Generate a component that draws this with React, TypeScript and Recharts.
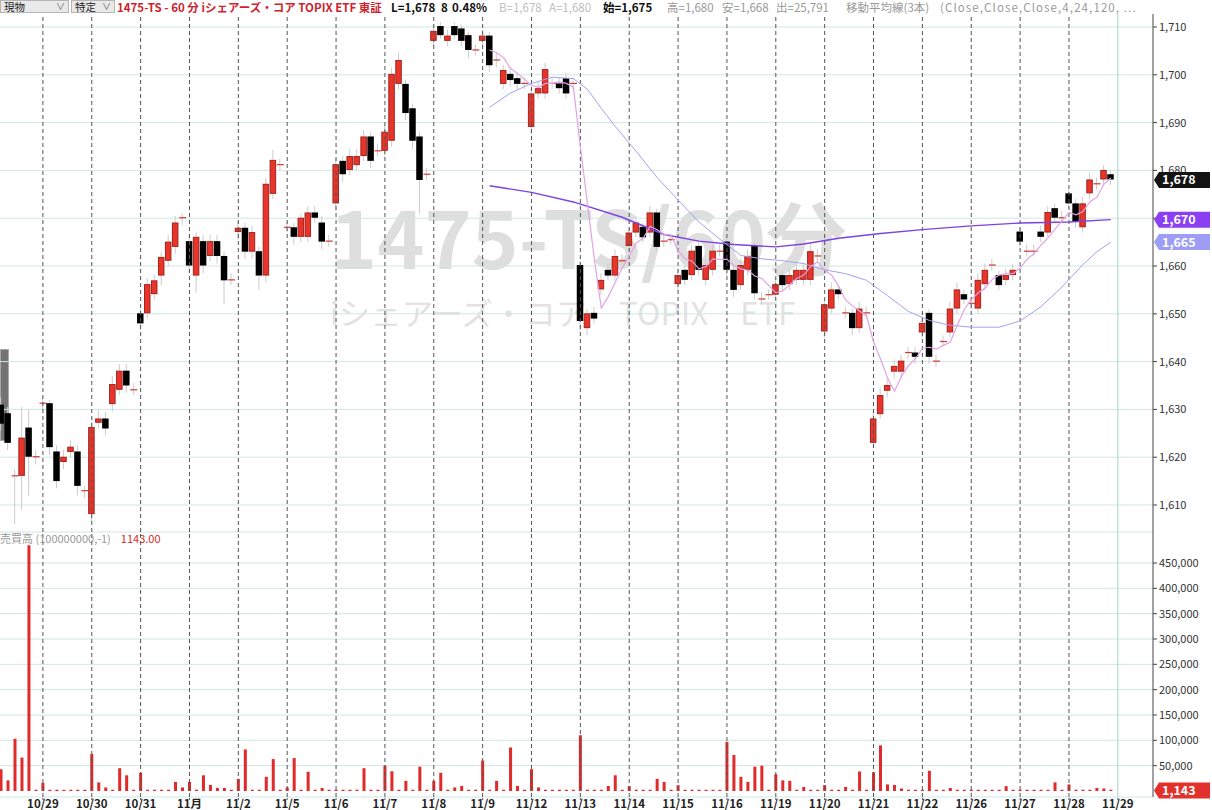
import { ComposedChart, Bar, Line, XAxis, YAxis, CartesianGrid, ReferenceLine } from 'recharts'

// 60-minute candles, one slot per hour (7 per trading day); slot 6 = first bar of 10/29
const opens = [
  1631, 1629.2, 1616.1, 1616.1, 1626.2, 1620.1, 1631.3, 1631.3, 1621.2, 1619.0,
  1621.1, 1621.2, 1613.0, 1608.1, 1627.2, 1628.1, 1631.1, 1634.1, 1638.1, 1634.1,
  1650.1, 1650.1, 1654.1, 1658.0, 1661.1, 1664.0, 1670.1, 1665.2, 1658.0, 1665.2,
  1662.1, 1665.2, 1662.1, 1657.1, 1667.1, 1668.0, 1663.0, 1663.1, 1658.0, 1675.1,
  1681.2, 1668.1, 1668.1, 1666.1, 1666.1, 1671.2, 1669.1, 1665.2, 1673.1, 1682.0,
  1680.1, 1681.1, 1683.0, 1687.1, 1684.1, 1684.1, 1686.2, 1698.1, 1698.1, 1693.0,
  1687.1, 1679.2, 1707.1, 1710.2, 1707.1, 1710.2, 1709.7, 1708.3, 1705.2, 1707.1,
  1708.2, 1703.1, 1698.1, 1700.2, 1699.3, 1698.2, 1689.1, 1696.1, 1696.1, 1698.2,
  1698.2, 1699.3, 1698.2, 1660.2, 1647.0, 1650.2, 1655.1, 1659.2, 1658.0, 1661.1,
  1664.2, 1667.0, 1668.2, 1667.0, 1671.2, 1665.2, 1665.5, 1656.2, 1659.2, 1658.1,
  1664.2, 1657.1, 1659.2, 1663.1, 1665.1, 1659.2, 1656.0, 1659.2, 1664.2, 1653.1,
  1654.0, 1654.0, 1658.1, 1656.2, 1657.1, 1657.1, 1657.1, 1662.1, 1646.3, 1651.1,
  1655.1, 1650.2, 1650.2, 1647.0, 1650.2, 1623.0, 1629.0, 1633.9, 1637.9, 1637.9,
  1641.9, 1641.9, 1646.1, 1650.2, 1640.1, 1644.2, 1646.1, 1651.1, 1654.1, 1652.2,
  1651.1, 1656.2, 1660.2, 1658.1, 1657.1, 1658.1, 1667.2, 1663.1, 1663.1, 1667.2,
  1667.0, 1672.1, 1670.1, 1675.2, 1673.1, 1668.1, 1675.2, 1677.2, 1678.1, 1679.2,
]
const closes = [
  1627, 1623.0, 1616.1, 1624.1, 1620.1, 1620.1, 1631.3, 1622.1, 1615.0, 1620.1,
  1622.2, 1614.0, 1613.0, 1626.3, 1628.1, 1626.0, 1635.3, 1638.1, 1635.0, 1634.1,
  1648.0, 1656.2, 1657.0, 1661.9, 1665.1, 1669.1, 1670.1, 1660.1, 1666.1, 1660.1,
  1665.2, 1662.1, 1657.0, 1657.1, 1668.0, 1663.0, 1667.1, 1658.0, 1677.2, 1682.2,
  1681.2, 1668.1, 1666.1, 1670.1, 1671.2, 1670.1, 1665.1, 1665.2, 1681.3, 1679.2,
  1683.0, 1683.0, 1687.1, 1682.0, 1684.1, 1688.1, 1700.2, 1703.1, 1692.0, 1686.2,
  1678.0, 1679.2, 1709.2, 1708.3, 1708.2, 1708.3, 1707.1, 1705.2, 1705.2, 1708.2,
  1702.0, 1703.1, 1701.0, 1698.9, 1698.1, 1698.2, 1696.1, 1697.2, 1701.2, 1698.2,
  1697.2, 1696.1, 1698.2, 1648.5, 1650.1, 1649.0, 1657.1, 1658.0, 1662.1, 1661.1,
  1667.0, 1669.1, 1666.0, 1671.2, 1664.0, 1665.2, 1665.5, 1658.1, 1657.1, 1663.2,
  1659.2, 1660.2, 1663.2, 1663.1, 1659.2, 1655.0, 1660.2, 1662.1, 1654.3, 1653.1,
  1654.0, 1656.2, 1656.0, 1658.1, 1659.2, 1659.2, 1663.1, 1662.1, 1652.0, 1655.1,
  1654.1, 1650.2, 1647.0, 1651.1, 1650.2, 1628.1, 1633.0, 1635.1, 1639.1, 1640.2,
  1641.9, 1641.0, 1648.1, 1641.0, 1640.1, 1644.2, 1651.1, 1655.1, 1653.0, 1652.2,
  1657.1, 1659.2, 1660.2, 1656.0, 1658.1, 1659.2, 1665.1, 1663.1, 1663.1, 1666.1,
  1671.3, 1670.1, 1670.1, 1673.1, 1669.3, 1673.1, 1678.1, 1677.2, 1680.1, 1678.1,
]
const highs = [
  1632.5, 1630.5, 1617.5, 1630.5, 1630, 1621.5, 1632.5, 1632, 1622.5, 1621.5,
  1623.5, 1622.5, 1614, 1627.5, 1630, 1629.5, 1637, 1639.5, 1639.5, 1635.5,
  1651, 1657.5, 1658.2, 1663, 1666.5, 1670.5, 1671, 1666.5, 1667, 1666.5,
  1666.5, 1666.5, 1663, 1658.5, 1669.5, 1669, 1668.5, 1664, 1678.5, 1684.3,
  1682.5, 1669.5, 1669, 1671, 1672.5, 1672.5, 1670.5, 1666.5, 1682.5, 1683,
  1684.5, 1684.5, 1688.5, 1688, 1685.5, 1689.5, 1701.5, 1704.6, 1699, 1694,
  1688, 1680.5, 1710.5, 1711, 1709.5, 1711, 1710.5, 1709, 1706.5, 1709.5,
  1709, 1704.5, 1702, 1701.5, 1700.5, 1699.5, 1697, 1698.5, 1702.5, 1699.5,
  1699.5, 1700.5, 1699.5, 1661, 1651, 1651.5, 1658.5, 1660.5, 1663.5, 1662.5,
  1668, 1670.5, 1669, 1672.5, 1672, 1666.5, 1666.5, 1659.5, 1660, 1664.5,
  1665, 1661.5, 1664.5, 1664.5, 1666, 1660, 1661.5, 1663.5, 1665, 1654.5,
  1655, 1657.5, 1659, 1659.5, 1660.5, 1660.5, 1664.5, 1663.5, 1653, 1656.5,
  1656, 1651.5, 1651, 1652.5, 1651.5, 1629.5, 1634.5, 1636.5, 1640.5, 1641.5,
  1643, 1643, 1649.5, 1651, 1641.5, 1645.5, 1652.5, 1656.5, 1655, 1653.5,
  1658.5, 1660.5, 1661.5, 1659, 1659.5, 1660.5, 1668, 1664.5, 1664.5, 1668.5,
  1672.5, 1673, 1671.5, 1676, 1674, 1674.5, 1679.5, 1678.5, 1681, 1680,
]
const lows = [
  1625.5, 1621.5, 1606, 1609, 1612, 1618.5, 1630, 1620.5, 1613.5, 1617.5,
  1620, 1612, 1611.5, 1606.5, 1626, 1624.5, 1629.5, 1633, 1633.5, 1633,
  1646.5, 1649, 1653, 1656, 1660, 1662.5, 1668.5, 1658.5, 1654.4, 1658.5,
  1661, 1660.5, 1652, 1656, 1665.5, 1661.5, 1661.5, 1655, 1656.5, 1674,
  1680, 1667, 1664.5, 1665, 1665, 1669, 1663.5, 1664, 1671.5, 1677.5,
  1679, 1680, 1682, 1680.5, 1683, 1683, 1685, 1697, 1690.5, 1684.5,
  1671, 1678, 1706, 1707.5, 1706, 1707.5, 1706, 1703.5, 1704, 1706,
  1700.5, 1701.5, 1697, 1697.5, 1697, 1697, 1687.5, 1695, 1695, 1697,
  1696, 1695, 1697, 1646.5, 1645.5, 1648, 1654, 1657, 1657, 1660,
  1663, 1666, 1665, 1666, 1663, 1664, 1664.5, 1655, 1656, 1657,
  1658, 1656, 1658, 1662, 1658, 1653.5, 1655, 1658, 1653, 1652,
  1653, 1653, 1655, 1655, 1656, 1656, 1656, 1661, 1645, 1650,
  1653, 1649, 1645.5, 1646, 1649, 1622, 1628, 1632.5, 1636.5, 1636.5,
  1640.5, 1639.5, 1645, 1639.5, 1639, 1643, 1645, 1650, 1652, 1651,
  1650, 1655, 1659, 1655, 1656, 1657, 1664, 1662, 1662, 1665,
  1666, 1669, 1669, 1672, 1668, 1667, 1674, 1676, 1677, 1677,
]
const volumes = [
  43000, 21000, 103000, 66000, 485000, 2500, 16000, 2500, 2500, 2500,
  2500, 2500, 2500, 73000, 17000, 7000, 2500, 45000, 31000, 2500,
  36000, 2500, 2500, 2500, 2500, 18000, 7000, 18000, 2500, 31000,
  12000, 6000, 6000, 2500, 24000, 82000, 2500, 2500, 28000, 63000,
  2500, 7000, 65000, 2500, 38000, 2500, 6000, 2500, 2500, 2500,
  2500, 2500, 45000, 2500, 2500, 50000, 39000, 2500, 20000, 2500,
  48000, 2500, 20000, 36000, 2500, 7000, 10000, 2500, 2500, 60000,
  2500, 20000, 2500, 86000, 10000, 2500, 43000, 7000, 2500, 2500,
  2500, 2500, 2500, 110000, 2500, 2500, 2500, 10000, 31000, 2500,
  9600, 2500, 2500, 2500, 24000, 18000, 2500, 11500, 2500, 2500,
  2500, 2500, 2500, 2500, 97000, 71000, 28000, 18000, 48000, 50000,
  2500, 33000, 21000, 20000, 2500, 8000, 2500, 2500, 11500, 2500,
  2500, 8000, 2500, 38500, 2500, 37000, 90000, 13000, 12000, 5000,
  2500, 2500, 2500, 40000, 2500, 2500, 6000, 2500, 2500, 2500,
  2500, 2500, 2500, 2500, 9600, 2500, 2500, 2500, 2500, 2500,
  2500, 17000, 2500, 13000, 2500, 2500, 2500, 6000, 5000, 2500,
]

const MA_START = 70
const ma4 = [
  1705.2, 1704.6, 1703.6, 1701.3, 1700.3, 1699.1, 1697.8, 1697.4, 1698.2, 1698.2,
  1698.5, 1698.2, 1697.4, 1685.0, 1673.2, 1661.5, 1651.2, 1653.6, 1656.6, 1659.6,
  1662.1, 1664.8, 1665.8, 1668.3, 1667.6, 1666.6, 1666.5, 1663.2, 1661.5, 1661.0,
  1659.4, 1659.9, 1661.5, 1661.4, 1661.4, 1660.1, 1659.4, 1659.1, 1657.9, 1657.4,
  1655.9, 1654.4, 1654.8, 1656.1, 1657.4, 1658.1, 1659.9, 1660.9, 1659.1, 1658.1,
  1655.8, 1652.9, 1651.6, 1650.6, 1649.6, 1644.1, 1640.6, 1636.6, 1633.8, 1636.9,
  1639.1, 1640.6, 1642.8, 1643.0, 1642.6, 1643.4, 1644.1, 1647.6, 1650.9, 1652.9,
  1654.4, 1655.4, 1657.2, 1658.1, 1658.4, 1658.4, 1659.6, 1661.4, 1662.6, 1664.4,
  1665.9, 1667.7, 1669.4, 1671.2, 1670.7, 1671.4, 1673.4, 1674.4, 1677.1, 1678.4,
]
const ma24Slots = [70, 73, 76, 79, 82, 84, 86, 88, 91, 94, 97, 100, 103, 106, 109, 112, 115, 118, 121, 124, 127, 130, 133, 136, 139, 143, 146, 149, 152, 155, 157, 159]
const ma24 = [1693.2, 1696.2, 1698.2, 1699.5, 1699.2, 1697.0, 1693.0, 1689.2, 1684.0, 1678.5, 1673.8, 1669.2, 1665.6, 1662.2, 1661.5, 1661.1, 1660.5, 1659.2, 1658.4, 1657.0, 1653.8, 1650.5, 1648.6, 1647.6, 1647.2, 1647.2, 1648.5, 1651.5, 1655.6, 1660.3, 1663.0, 1665.0]
const ma120Slots = [70, 76, 82, 89, 95, 100, 105, 111, 115, 120, 126, 132, 139, 146, 153, 159]
const ma120 = [1676.8, 1675.4, 1673.4, 1670.2, 1666.6, 1665.2, 1664.5, 1664.0, 1664.6, 1665.8, 1666.8, 1667.6, 1668.4, 1669.0, 1669.2, 1669.7]

const dayLabels = ['10/29', '10/30', '10/31', '11月', '11/2', '11/5', '11/6', '11/7', '11/8', '11/9', '11/12', '11/13', '11/14', '11/15', '11/16', '11/19', '11/20', '11/21', '11/22', '11/26', '11/27', '11/28', '11/29']
const dayTicks = dayLabels.map((_, k) => 6 + 7 * k)
const priceTicks = [1610, 1620, 1630, 1640, 1650, 1660, 1670, 1680, 1690, 1700, 1710]
const volTicks = [50000, 100000, 150000, 200000, 250000, 300000, 350000, 400000, 450000]

const X_DOMAIN = [-0.146, 165.04]
const PRICE_DOMAIN = [1604.35, 1715.65]
const FONT = '"Noto Sans CJK JP", "Noto Sans", sans-serif'

const rows = opens.map((open, i) => {
  const a = ma24Slots.indexOf(i)
  const b = ma120Slots.indexOf(i)
  return {
    slot: i,
    open,
    close: closes[i],
    high: highs[i],
    low: lows[i],
    range: [lows[i], highs[i]],
    vol: volumes[i],
    ma4: i >= MA_START ? ma4[i - MA_START] : null,
    ma24: a >= 0 ? ma24[a] : null,
    ma120: b >= 0 ? ma120[b] : null,
  }
})

function Candle(p: any) {
  const { x, y, width, height, payload } = p
  if (!payload || !height) return null
  const { open, close, high, low } = payload
  const k = height / (high - low)
  const cx = x + width / 2
  const yo = y + (high - open) * k
  const yc = y + (high - close) * k
  const top = Math.min(yo, yc)
  const h = Math.abs(yo - yc)
  let body
  if (h < 1) body = <line x1={cx - 3} x2={cx + 4} y1={yo} y2={yo} stroke="#cf3b33" strokeWidth={1.2} />
  else if (close > open) body = <rect x={cx - 2.75} y={top + 0.5} width={5.5} height={h - 1} fill="#e8342b" stroke="#a3241c" strokeWidth={1} />
  else body = <rect x={cx - 3.25} y={top} width={6.5} height={h} fill="#000" />
  return (
    <g>
      <line x1={cx} x2={cx} y1={y} y2={y + height} stroke="#cccccc" strokeWidth={1} />
      {body}
    </g>
  )
}

function Tag(p: any) {
  const { viewBox, text, fill } = p
  if (!viewBox) return null
  const x = viewBox.x + viewBox.width + 1
  const y = viewBox.y
  return (
    <g>
      <path d={`M${x},${y} L${x + 5},${y - 8} L${x + 56},${y - 8} L${x + 56},${y + 8} L${x + 5},${y + 8} Z`} fill={fill} />
      <text x={x + 8} y={y + 4.5} fill="#fff" fontSize={12.5} fontWeight={700} fontFamily={FONT}>{text}</text>
    </g>
  )
}

const fmt = (v: number) => v.toLocaleString('en-US')

function Select({ left, width, text }: { left: number; width: number; text: string }) {
  return (
    <div style={{ position: 'absolute', left, top: 0, width, height: 13, background: '#e9e9e9', border: '1px solid #b5b5b5', boxSizing: 'border-box', fontSize: 10.5, lineHeight: '12px', color: '#222', overflow: 'hidden' }}>
      <span style={{ marginLeft: 3 }}>{text}</span>
      <span style={{ position: 'absolute', right: 3, top: 0, color: '#666', fontSize: 9 }}>∨</span>
    </div>
  )
}

const H = (left: number, color: string, text: string, bold = false, extra: any = {}) => (
  <span style={{ position: 'absolute', left, top: 1, color, fontWeight: bold ? 700 : 400, ...extra }}>{text}</span>
)

export default function App() {
  return (
    <div style={{ position: 'absolute', left: 0, top: 0, width: 1212, height: 810, overflow: 'hidden', background: '#fff', fontFamily: FONT }}>
      <div style={{ position: 'absolute', left: 330, top: 194, fontSize: 80, fontWeight: 700, color: '#dedede', lineHeight: 1, whiteSpace: 'nowrap' }}>1475-TS/60分</div>
      <div style={{ position: 'absolute', left: 330, top: 296, fontSize: 31, color: '#e2e2e2', lineHeight: 1, whiteSpace: 'nowrap', letterSpacing: 0.5 }}>iシェアーズ・コア　TOPIX　ETF</div>
      <div style={{ position: 'absolute', left: 0, top: 349, width: 9, height: 92, background: '#737373', border: '1px solid #a8a8a8', boxSizing: 'border-box' }} />

      <div style={{ position: 'absolute', left: 0, top: 0 }}>
        <ComposedChart width={1212} height={532} data={rows} margin={{ top: 0, right: 0, bottom: 0, left: 0 }}>
          <CartesianGrid vertical={false} stroke="#cfe7e1" />
          <XAxis type="number" dataKey="slot" domain={X_DOMAIN} ticks={dayTicks} allowDataOverflow hide />
          <YAxis orientation="right" width={59} domain={PRICE_DOMAIN} ticks={priceTicks} allowDataOverflow
            tickFormatter={fmt} tick={{ fontSize: 11, fill: '#333', fontFamily: FONT }} tickSize={4} tickMargin={2}
            axisLine={{ stroke: '#444' }} tickLine={{ stroke: '#444' }} />
          {dayTicks.slice(0, -1).map((t) => (
            <ReferenceLine key={t} x={t} stroke="#555" strokeDasharray="4 3" />
          ))}
          <ReferenceLine x={160} stroke="#a4d6cc" />
          <Bar dataKey="range" barSize={7} shape={(p: any) => <Candle {...p} />} isAnimationActive={false} />
          <Line dataKey="ma120" type="linear" stroke="#7c43e2" strokeWidth={1.4} dot={false} connectNulls isAnimationActive={false} />
          <Line dataKey="ma24" type="linear" stroke="#a2a2f2" strokeWidth={1} dot={false} connectNulls isAnimationActive={false} />
          <Line dataKey="ma4" type="linear" stroke="#e2a2e6" strokeWidth={1.2} dot={false} connectNulls isAnimationActive={false} />
        </ComposedChart>
      </div>

      {/* last-value tags, drawn above the axis labels */}
      <div style={{ position: 'absolute', left: 0, top: 0 }}>
        <ComposedChart width={1212} height={532} data={rows} margin={{ top: 0, right: 0, bottom: 0, left: 0 }}>
          <XAxis type="number" dataKey="slot" domain={X_DOMAIN} allowDataOverflow hide />
          <YAxis orientation="right" width={59} domain={PRICE_DOMAIN} allowDataOverflow tick={false} axisLine={false} tickLine={false} />
          <ReferenceLine y={1678} stroke="none" label={<Tag text="1,678" fill="#141414" />} />
          <ReferenceLine y={1669.7} stroke="none" label={<Tag text="1,670" fill="#8a3ff2" />} />
          <ReferenceLine y={1665} stroke="none" label={<Tag text="1,665" fill="#9d9df5" />} />
        </ComposedChart>
      </div>

      <div style={{ position: 'absolute', left: 0, top: 532 }}>
        <ComposedChart width={1212} height={278} data={rows} margin={{ top: 0, right: 0, bottom: 0, left: 0 }}>
          <CartesianGrid vertical={false} stroke="#cfe7e1" />
          <XAxis type="number" dataKey="slot" domain={X_DOMAIN} ticks={dayTicks} allowDataOverflow interval={0} height={13}
            tickFormatter={(v: number) => dayLabels[(v - 6) / 7]} axisLine={false} tickSize={3} tickMargin={0}
            tickLine={{ stroke: '#555', strokeDasharray: '2 2' }}
            tick={{ fontSize: 11.5, fontWeight: 700, fill: '#222', fontFamily: FONT }} />
          <YAxis orientation="right" width={59} domain={[-11842, 511184]} ticks={volTicks} allowDataOverflow
            tickFormatter={fmt} tick={{ fontSize: 11, fill: '#333', fontFamily: FONT }} tickSize={4} tickMargin={2}
            axisLine={{ stroke: '#444' }} tickLine={{ stroke: '#444' }} />
          {dayTicks.slice(0, -1).map((t) => (
            <ReferenceLine key={t} x={t} stroke="#555" strokeDasharray="4 3" />
          ))}
          <ReferenceLine x={160} stroke="#a4d6cc" />
          <Bar dataKey="vol" barSize={3} fill="#e12a2a" isAnimationActive={false} />
          <ReferenceLine y={1143} stroke="none" label={<Tag text="1,143" fill="#e2302c" />} />
        </ComposedChart>
      </div>

      <div style={{ position: 'absolute', left: 0, top: 532, fontSize: 11, lineHeight: '13px', whiteSpace: 'nowrap' }}>
        <span style={{ color: '#9a9a9a' }}>売買高 (100000000,-1)</span>
        <span style={{ color: '#d42a2a', marginLeft: 10 }}>1143.00</span>
      </div>

      <div style={{ position: 'absolute', left: 0, top: 0, width: 1212, height: 14, background: '#fff', fontSize: 11.5, lineHeight: '13px', whiteSpace: 'nowrap' }}>
        <Select left={0} width={69} text="現物" />
        <Select left={71} width={44} text="特定" />
        {H(117, '#cc2530', '1475-TS - 60 分 iシェアーズ・コア TOPIX ETF 東証', true)}
        {H(391, '#111', 'L=1,678', true)}
        {H(441, '#111', '8', true)}
        {H(452, '#111', '0.48%', true)}
        {H(499, '#bdbdbd', 'B=1,678')}
        {H(549, '#bdbdbd', 'A=1,680')}
        {H(603, '#111', '始=1,675', true)}
        {H(667, '#9a9a9a', '高=1,680')}
        {H(722, '#9a9a9a', '安=1,668')}
        {H(776, '#9a9a9a', '出=25,791')}
        {H(846, '#9a9a9a', '移動平均線(3本)')}
        {H(940, '#9a9a9a', '(Close,Close,Close,4,24,120, ...', false, { letterSpacing: 1.1 })}
      </div>
    </div>
  )
}
